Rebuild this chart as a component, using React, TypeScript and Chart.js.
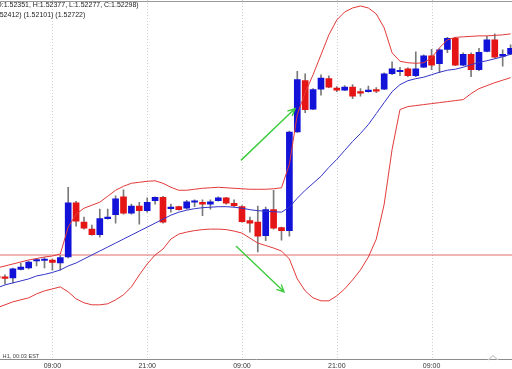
import React, { useEffect, useRef } from 'react';
import { Chart, registerables } from 'chart.js';

Chart.register(...registerables);

// Hourly candles (index 0 = 02:00 of the first visible day)
const opens = [1.50225, 1.50220, 1.50210, 1.50295, 1.50310, 1.50380, 1.50385, 1.50390, 1.50360, 1.50420,
  1.50965, 1.50770, 1.50700, 1.50645, 1.50805, 1.50845, 1.51025, 1.50860, 1.50930, 1.50885,
  1.50985, 1.51020, 1.50905, 1.50925, 1.50910, 1.50970, 1.50970, 1.50950, 1.50985, 1.51015,
  1.50960, 1.50925, 1.50785, 1.50770, 1.50635, 1.50895, 1.50715, 1.50685, 1.51675, 1.52190,
  1.51905, 1.52105, 1.52210, 1.52115, 1.52095, 1.52125, 1.52080, 1.52080, 1.52100, 1.52105,
  1.52260, 1.52280, 1.52310, 1.52240, 1.52325, 1.52440, 1.52360, 1.52505, 1.52615, 1.52345,
  1.52455, 1.52300, 1.52485, 1.52600, 1.52435, 1.52455];
const highs = [1.50240, 1.50240, 1.50310, 1.50360, 1.50380, 1.50405, 1.50415, 1.50400, 1.50435, 1.51120,
  1.50980, 1.50820, 1.50740, 1.50900, 1.50900, 1.51035, 1.51095, 1.50950, 1.50970, 1.51015,
  1.51025, 1.51030, 1.50950, 1.50930, 1.50990, 1.50995, 1.50995, 1.50995, 1.51025, 1.51020,
  1.50995, 1.50935, 1.50820, 1.50930, 1.50920, 1.51090, 1.50720, 1.51685, 1.52285, 1.52260,
  1.52110, 1.52250, 1.52240, 1.52130, 1.52140, 1.52150, 1.52110, 1.52135, 1.52120, 1.52270,
  1.52380, 1.52325, 1.52320, 1.52480, 1.52450, 1.52505, 1.52510, 1.52625, 1.52625, 1.52470,
  1.52470, 1.52515, 1.52635, 1.52660, 1.52500, 1.52550];
const lows = [1.50190, 1.50150, 1.50160, 1.50290, 1.50300, 1.50330, 1.50310, 1.50290, 1.50290, 1.50410,
  1.50730, 1.50700, 1.50640, 1.50620, 1.50800, 1.50760, 1.50850, 1.50850, 1.50750, 1.50870,
  1.50950, 1.50760, 1.50870, 1.50890, 1.50900, 1.50925, 1.50835, 1.50900, 1.50980, 1.50950,
  1.50925, 1.50770, 1.50670, 1.50470, 1.50585, 1.50700, 1.50590, 1.50630, 1.51670, 1.51870,
  1.51900, 1.52045, 1.52120, 1.52080, 1.52090, 1.52010, 1.52035, 1.52075, 1.52070, 1.52100,
  1.52250, 1.52240, 1.52230, 1.52230, 1.52320, 1.52300, 1.52270, 1.52470, 1.52340, 1.52340,
  1.52230, 1.52290, 1.52480, 1.52415, 1.52335, 1.52450];
const closes = [1.50210, 1.50205, 1.50300, 1.50320, 1.50370, 1.50395, 1.50400, 1.50365, 1.50415, 1.50965,
  1.50780, 1.50710, 1.50645, 1.50805, 1.50820, 1.51005, 1.50860, 1.50930, 1.50885, 1.50970,
  1.51020, 1.50770, 1.50920, 1.50895, 1.50975, 1.50985, 1.50950, 1.50975, 1.51015, 1.50960,
  1.50935, 1.50775, 1.50760, 1.50630, 1.50895, 1.50710, 1.50685, 1.51675, 1.52200, 1.51900,
  1.52100, 1.52215, 1.52125, 1.52095, 1.52125, 1.52035, 1.52065, 1.52095, 1.52085, 1.52260,
  1.52310, 1.52295, 1.52240, 1.52310, 1.52440, 1.52345, 1.52500, 1.52615, 1.52345, 1.52455,
  1.52300, 1.52475, 1.52600, 1.52425, 1.52455, 1.52515];

// Moving average (blue) and Bollinger bands (red)
const maLine = [1.50110, 1.50140, 1.50160, 1.50180, 1.50200, 1.50230, 1.50245, 1.50265, 1.50290, 1.50330,
  1.50360, 1.50400, 1.50440, 1.50480, 1.50520, 1.50560, 1.50600, 1.50640, 1.50680, 1.50720,
  1.50760, 1.50800, 1.50840, 1.50870, 1.50890, 1.50905, 1.50915, 1.50920, 1.50925, 1.50925,
  1.50920, 1.50910, 1.50895, 1.50885, 1.50880, 1.50875, 1.50870, 1.50920, 1.51010, 1.51090,
  1.51160, 1.51230, 1.51320, 1.51400, 1.51490, 1.51580, 1.51660, 1.51750, 1.51860, 1.51970,
  1.52080, 1.52150, 1.52190, 1.52210, 1.52225, 1.52250, 1.52275, 1.52295, 1.52305, 1.52325,
  1.52350, 1.52375, 1.52390, 1.52410, 1.52430, 1.52455];
const upperBand = [1.50310, 1.50330, 1.50350, 1.50370, 1.50390, 1.50405, 1.50420, 1.50430, 1.50450, 1.50720,
  1.50850, 1.50910, 1.50940, 1.50970, 1.51030, 1.51090, 1.51130, 1.51160, 1.51170, 1.51180,
  1.51185, 1.51160, 1.51120, 1.51090, 1.51090, 1.51100, 1.51110, 1.51115, 1.51120, 1.51115,
  1.51110, 1.51105, 1.51100, 1.51100, 1.51100, 1.51105, 1.51115, 1.51350, 1.51850, 1.52070,
  1.52250, 1.52450, 1.52650, 1.52800, 1.52880, 1.52920, 1.52940, 1.52920, 1.52860, 1.52720,
  1.52470, 1.52385, 1.52370, 1.52365, 1.52370, 1.52420, 1.52520, 1.52600, 1.52625, 1.52630,
  1.52635, 1.52640, 1.52640, 1.52645, 1.52650, 1.52660];
const lowerBand = [1.49910, 1.49940, 1.49970, 1.49990, 1.50010, 1.50050, 1.50080, 1.50100, 1.50120, 1.50070,
  1.50000, 1.49960, 1.49940, 1.49940, 1.49950, 1.49990, 1.50040, 1.50120, 1.50240, 1.50350,
  1.50440, 1.50500, 1.50600, 1.50650, 1.50670, 1.50685, 1.50695, 1.50700, 1.50700, 1.50695,
  1.50680, 1.50660, 1.50610, 1.50560, 1.50535, 1.50510, 1.50480, 1.50400, 1.50200, 1.50080,
  1.50010, 1.49980, 1.49980, 1.50030, 1.50100, 1.50190, 1.50290, 1.50420, 1.50600, 1.50950,
  1.51500, 1.51900, 1.51930, 1.51940, 1.51950, 1.51960, 1.51970, 1.51980, 1.51990, 1.52000,
  1.52060, 1.52110, 1.52140, 1.52170, 1.52195, 1.52220];

const levelPrice = 1.50440;
const tickIndex = [7, 19, 31, 43, 55];
const tickLabels = ['09:00', '21:00', '09:00', '21:00', '09:00'];
const headerOHLC = 'O:1.52351, H:1.52377, L:1.52277, C:1.52298)';
const headerBands = '(1.52412) (1.52101) (1.52722)';
const footerText = 'H1, 00:03 EST';
const arrowUpFrom = [30.87, 1.5139];
const arrowUpTo = [37.71, 1.5191];
const arrowDownFrom = [30.24, 1.5053];
const arrowDownTo = [36.32, 1.5007];

const X_MIN = 0.367;
const X_MAX = 65.18;
const Y_MIN = 1.4939;
const Y_MAX = 1.53;

const BLUE = '#1212d8';
const RED = '#e51515';
const FONT = "'Liberation Sans', Arial, sans-serif";

const gridPlugin = {
  id: 'dottedGrid',
  beforeDatasetsDraw(chart: any) {
    const { ctx, chartArea, scales } = chart;
    ctx.save();
    ctx.strokeStyle = '#cdcdcd';
    ctx.lineWidth = 1;
    ctx.setLineDash([1, 2]);
    tickIndex.forEach((v) => {
      const px = Math.round(scales.x.getPixelForValue(v)) + 0.5;
      ctx.beginPath();
      ctx.moveTo(px, chartArea.top);
      ctx.lineTo(px, chartArea.bottom);
      ctx.stroke();
    });
    ctx.restore();
  },
};

const decor = {
  id: 'decor',
  afterDatasetsDraw(chart: any) {
    const { ctx, chartArea, scales } = chart;
    const xs = scales.x;
    const ys = scales.y;
    ctx.save();
    // top border
    ctx.strokeStyle = '#9a9a9a';
    ctx.lineWidth = 1;
    ctx.beginPath();
    ctx.moveTo(chartArea.left, 1.5);
    ctx.lineTo(chartArea.right, 1.5);
    ctx.stroke();

    // arrows
    const drawArrow = (from: number[], to: number[]) => {
      const x1 = xs.getPixelForValue(from[0]);
      const y1 = ys.getPixelForValue(from[1]);
      const x2 = xs.getPixelForValue(to[0]);
      const y2 = ys.getPixelForValue(to[1]);
      const ang = Math.atan2(y2 - y1, x2 - x1);
      const len = 8;
      ctx.strokeStyle = '#3ccc3c';
      ctx.lineWidth = 1.4;
      ctx.beginPath();
      ctx.moveTo(x1, y1);
      ctx.lineTo(x2, y2);
      ctx.moveTo(x2 - len * Math.cos(ang - 0.45), y2 - len * Math.sin(ang - 0.45));
      ctx.lineTo(x2, y2);
      ctx.lineTo(x2 - len * Math.cos(ang + 0.45), y2 - len * Math.sin(ang + 0.45));
      ctx.stroke();
    };
    drawArrow(arrowUpFrom, arrowUpTo);
    drawArrow(arrowDownFrom, arrowDownTo);

    // header text
    ctx.fillStyle = '#222';
    ctx.font = `7px ${FONT}`;
    ctx.textBaseline = 'middle';
    ctx.textAlign = 'left';
    ctx.fillText(headerOHLC, 1.7 - ctx.measureText('O').width, 5.5);
    ctx.fillText(headerBands, -ctx.measureText('(1.').width - 0.3, 15);

    // footer
    ctx.font = `5.6px ${FONT}`;
    ctx.fillStyle = '#444';
    ctx.fillText(footerText, 2.6, 356);

    // scroll chevron
    ctx.strokeStyle = '#cfcfcf';
    ctx.lineWidth = 1.2;
    ctx.beginPath();
    ctx.moveTo(488, 360);
    ctx.lineTo(493, 355.5);
    ctx.lineTo(498, 360);
    ctx.stroke();
    ctx.restore();
  },
};

export default function App() {
  const ref = useRef<HTMLCanvasElement | null>(null);

  useEffect(() => {
    if (!ref.current) return;
    const idx = opens.map((_, i) => i);
    const colors = idx.map((i) => (closes[i] >= opens[i] ? BLUE : RED));

    const chart = new Chart(ref.current, {
      type: 'bar',
      data: {
        datasets: [
          {
            type: 'line',
            label: 'level',
            data: [{ x: X_MIN - 2, y: levelPrice }, { x: X_MAX + 2, y: levelPrice }],
            borderColor: '#e46a6a',
            borderWidth: 1,
            pointRadius: 0,
            order: 5,
          } as any,
          {
            type: 'line',
            label: 'upper',
            data: idx.map((i) => ({ x: i, y: upperBand[i] })),
            borderColor: '#e23a3a',
            borderWidth: 1,
            pointRadius: 0,
            tension: 0,
            order: 0,
          } as any,
          {
            type: 'line',
            label: 'lower',
            data: idx.map((i) => ({ x: i, y: lowerBand[i] })),
            borderColor: '#e23a3a',
            borderWidth: 1,
            pointRadius: 0,
            tension: 0,
            order: 0,
          } as any,
          {
            type: 'line',
            label: 'ma',
            data: idx.map((i) => ({ x: i, y: maLine[i] })),
            borderColor: '#3434c8',
            borderWidth: 1,
            pointRadius: 0,
            tension: 0,
            order: 0,
          } as any,
          {
            type: 'bar',
            label: 'body',
            data: idx.map((i) => ({ x: i, y: [opens[i], closes[i]] })),
            backgroundColor: colors,
            borderWidth: 0,
            barThickness: 6,
            grouped: false,
            order: 2,
          } as any,
          {
            type: 'bar',
            label: 'wick',
            data: idx.map((i) => ({ x: i, y: [lows[i], highs[i]] })),
            backgroundColor: '#7a7a7a',
            borderWidth: 0,
            barThickness: 1,
            grouped: false,
            order: 3,
          } as any,
        ],
      },
      options: {
        animation: false,
        responsive: true,
        maintainAspectRatio: false,
        devicePixelRatio: 1,
        layout: { padding: 0 },
        plugins: { legend: { display: false }, tooltip: { enabled: false } },
        scales: {
          x: {
            type: 'linear',
            min: X_MIN,
            max: X_MAX,
            offset: false,
            afterBuildTicks: (s: any) => {
              s.ticks = tickIndex.map((v) => ({ value: v }));
            },
            ticks: {
              autoSkip: false,
              maxRotation: 0,
              padding: 2,
              color: '#333',
              font: { size: 7, family: FONT },
              callback: (v: any) => {
                const j = tickIndex.indexOf(Number(v));
                return j >= 0 ? tickLabels[j] : '';
              },
            },
            grid: { display: false, drawTicks: false },
            border: { display: true, color: '#8c8c8c', width: 1 },
          },
          y: {
            type: 'linear',
            display: false,
            min: Y_MIN,
            max: Y_MAX,
          },
        },
      },
      plugins: [gridPlugin, decor],
    });
    return () => chart.destroy();
  }, []);

  return (
    <div style={{ position: 'fixed', left: 0, top: 0, width: 512, height: 372, background: '#fff' }}>
      <canvas ref={ref} />
    </div>
  );
}
